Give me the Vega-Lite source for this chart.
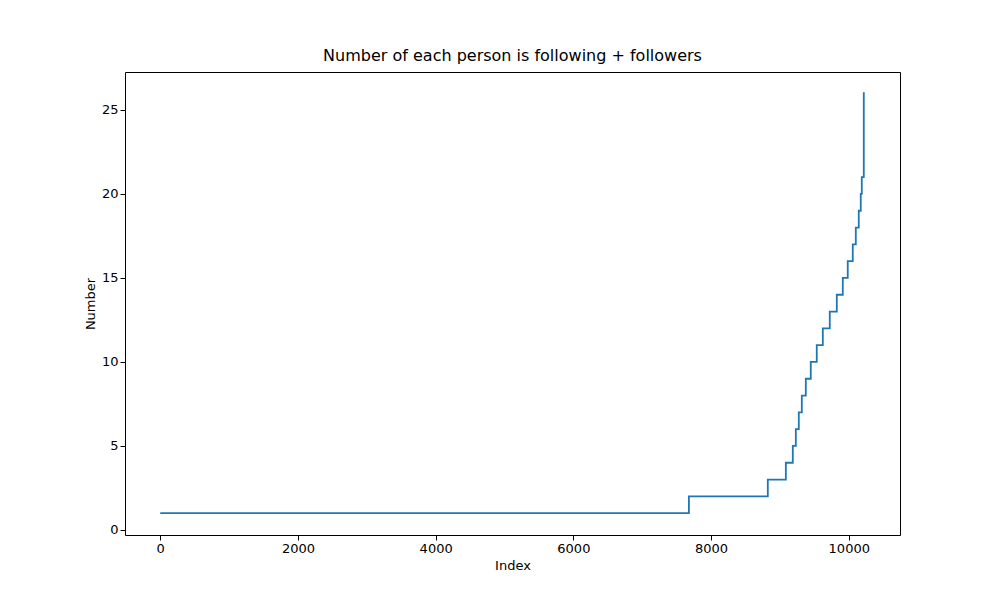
{
  "$schema": "https://vega.github.io/schema/vega-lite/v6.json",
  "width": 775,
  "height": 463,
  "autosize": {"type": "none"},
  "padding": {"left": 125, "top": 72, "right": 100, "bottom": 65},
  "background": "white",
  "config": {
    "font": "DejaVu Sans",
    "view": {"stroke": "black", "strokeWidth": 1},
    "axis": {"grid": false, "domain": false, "tickColor": "black", "labelColor": "black", "labelFontSize": 13, "titleFontSize": 13, "titleFontWeight": "normal", "titleColor": "black", "tickSize": 5}
  },
  "title": {"text": "Number of each person is following + followers", "fontSize": 16, "fontWeight": "normal", "offset": 8},
  "data": {
    "values": [
      {"Index": 0, "Number": 1},
      {"Index": 7678, "Number": 2},
      {"Index": 8824, "Number": 3},
      {"Index": 9086, "Number": 4},
      {"Index": 9187, "Number": 5},
      {"Index": 9231, "Number": 6},
      {"Index": 9274, "Number": 7},
      {"Index": 9318, "Number": 8},
      {"Index": 9376, "Number": 9},
      {"Index": 9448, "Number": 10},
      {"Index": 9535, "Number": 11},
      {"Index": 9623, "Number": 12},
      {"Index": 9724, "Number": 13},
      {"Index": 9826, "Number": 14},
      {"Index": 9913, "Number": 15},
      {"Index": 9985, "Number": 16},
      {"Index": 10058, "Number": 17},
      {"Index": 10102, "Number": 18},
      {"Index": 10145, "Number": 19},
      {"Index": 10174, "Number": 20},
      {"Index": 10189, "Number": 21},
      {"Index": 10218, "Number": 26},
      {"Index": 10232, "Number": 26}
    ]
  },
  "mark": {"type": "line", "interpolate": "step-after", "color": "#1f77b4", "strokeWidth": 1.8, "clip": true},
  "encoding": {
    "x": {"field": "Index", "type": "quantitative", "scale": {"domain": [-512, 10744], "nice": false, "zero": false},
      "axis": {"values": [0, 2000, 4000, 6000, 8000, 10000], "format": "d", "title": "Index"}},
    "y": {"field": "Number", "type": "quantitative", "scale": {"domain": [-0.3, 27.26], "nice": false, "zero": false},
      "axis": {"values": [0, 5, 10, 15, 20, 25], "title": "Number"}}
  }
}
